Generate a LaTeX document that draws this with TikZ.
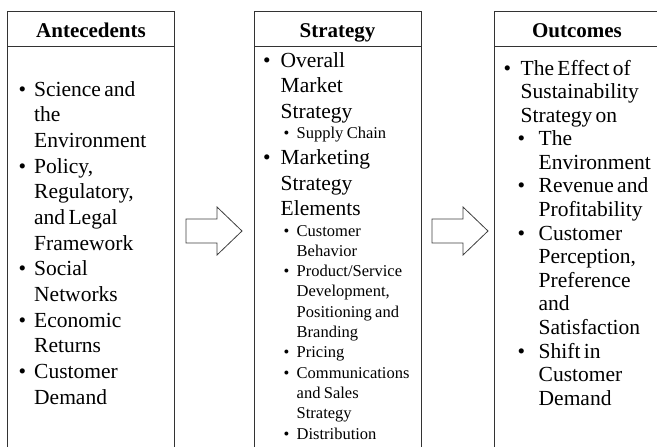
\documentclass[tikz,border=0pt]{standalone}
\usepackage{fontspec}
\setmainfont{Liberation Serif}
\usetikzlibrary{positioning}

% bullet paragraph: #1 left offset, #2 hanging indent, #3 text
\newcommand{\bul}[3]{\leftskip=#1\hangindent=#2\hangafter=1\noindent
  \makebox[#2][l]{\textbullet}#3\par}
\newcommand{\bigsize}{\fontsize{21.5}{25.7}\selectfont}
\newcommand{\subsize}{\fontsize{16.5}{20.3}\selectfont}

\begin{document}
\begin{tikzpicture}[x=1pt, y=-1pt,
  colbox/.style = {draw=black!80, line width=0.9pt},
  headtext/.style = {font=\fontsize{21}{24}\selectfont\bfseries, inner sep=0pt, anchor=base},
  bodytext/.style = {inner sep=0pt, anchor=base west, text width=#1},
  blockarrow/.style = {draw=black!75, line width=0.8pt, fill=white}]
  \useasboundingbox (0,0) rectangle (657,447);
  \clip (0,0) rectangle (657,447);

  % the three columns
  \draw[colbox] (7.5,460) |- (174.5,11) -- (174.5,460);
  \draw[colbox] (7.5,46.5) -- (174.5,46.5);
  \draw[colbox] (254,460) |- (421,11) -- (421,460);
  \draw[colbox] (254,46.5) -- (421,46.5);
  \draw[colbox] (494.5,460) |- (662,11) -- (662,460);
  \draw[colbox] (494.5,46.5) -- (662,46.5);

  \node[headtext] (antHead) at (91,37.5) {Antecedents};
  \node[headtext] (strHead) at (337.5,37.5) {Strategy};
  \node[headtext] (outHead) at (577,37.5) {Outcomes};

  \node[bodytext=150pt] (antBody) at (18.5,96) {\bigsize
    \bul{0pt}{15.5pt}{Science and\newline the\newline Environment}
    \bul{0pt}{15.5pt}{Policy,\newline Regulatory,\newline and Legal\newline Framework}
    \bul{0pt}{15.5pt}{Social\newline Networks}
    \bul{0pt}{15.5pt}{Economic\newline Returns}
    \bul{0pt}{15.5pt}{Customer\newline Demand}};

  \node[bodytext=160pt] (strBody) at (263,67) {\bigsize
    \bul{0pt}{17.5pt}{Overall\newline Market\newline Strategy}
    {\subsize\bul{20.5pt}{13pt}{Supply Chain}}
    \bul{0pt}{17.5pt}{Marketing\newline Strategy\newline Elements}
    {\subsize
    \bul{20.5pt}{13pt}{Customer\newline Behavior}
    \bul{20.5pt}{13pt}{Product/Service\newline Development,\newline Positioning and\newline Branding}
    \bul{20.5pt}{13pt}{Pricing}
    \bul{20.5pt}{13pt}{Communications\newline and Sales\newline Strategy}
    \bul{20.5pt}{13pt}{Distribution}}};

  \node[bodytext=160pt] (outBody) at (503.5,75) {\fontsize{21.5}{23.6}\selectfont
    \bul{0pt}{17pt}{The Effect of\newline Sustainability\newline Strategy on}
    \bul{14pt}{21pt}{The\newline Environment}
    \bul{14pt}{21pt}{Revenue and\newline Profitability}
    \bul{14pt}{21pt}{Customer\newline Perception,\newline Preference\newline and\newline Satisfaction}
    \bul{14pt}{21pt}{Shift in\newline Customer\newline Demand}};

  % block arrows between the columns
  \coordinate (arrAS) at (186,231);
  \coordinate (arrSO) at (432,231);
  \draw[blockarrow] (arrAS) -- ++(0,-12) -- ++(31,0) -- ++(0,-12) -- ++(25,24)
    -- ++(-25,24) -- ++(0,-12) -- ++(-31,0) -- cycle;
  \draw[blockarrow] (arrSO) -- ++(0,-12) -- ++(31,0) -- ++(0,-12) -- ++(25,24)
    -- ++(-25,24) -- ++(0,-12) -- ++(-31,0) -- cycle;
\end{tikzpicture}
\end{document}
